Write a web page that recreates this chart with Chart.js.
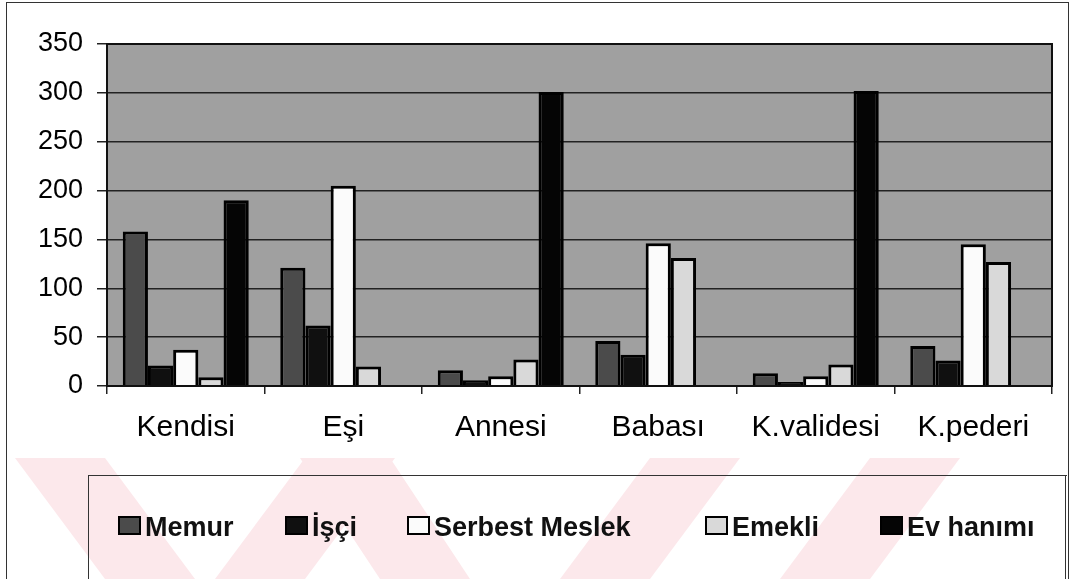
<!DOCTYPE html>
<html>
<head>
<meta charset="utf-8">
<script src="https://cdn.jsdelivr.net/npm/chart.js@4/dist/chart.umd.min.js"></script>
<style>
  body { margin: 0; background: #fff; }
  #wrap { position: relative; width: 1075px; height: 579px; overflow: hidden; font-family: Arial, "Liberation Sans", sans-serif; }
  #mark { position: absolute; left: 0; top: 0; width: 1075px; height: 579px; z-index: 0; }
  #mark div { position: absolute; left: 0; top: 0; width: 1075px; height: 579px; background: #fce8eb; }
  #chartBox { position: absolute; left: 0; top: 0; width: 1075px; height: 579px; z-index: 1; }
  #outer { position: absolute; left: 6px; top: 2px; width: 1061px; height: 640px; border: 1px solid #333; z-index: 2; }
  #legend { position: absolute; left: 88px; top: 475px; width: 976px; height: 160px; border: 1px solid #333; border-right: 4px double #333; z-index: 2; }
  .item { position: absolute; top: 512px; font-family: "Liberation Sans", Arial, sans-serif; font-weight: bold; font-size: 27px; line-height: 30px; color: #111; z-index: 3; white-space: nowrap; }
  .item i { display: inline-block; width: 19px; height: 15px; border: 2px solid #000; margin-right: 4px; vertical-align: 1px; }
</style>
</head>
<body>
<div id="wrap">
  <div id="mark">
    <div style="clip-path: polygon(15px 458px, 105px 458px, 195px 579px, 105px 579px);"></div>
    <div style="clip-path: polygon(215px 579px, 305px 579px, 395px 458px, 305px 458px);"></div>
    <div style="clip-path: polygon(300px 458px, 390px 458px, 470px 579px, 380px 579px);"></div>
    <div style="clip-path: polygon(560px 579px, 650px 579px, 740px 458px, 650px 458px);"></div>
    <div style="clip-path: polygon(780px 579px, 870px 579px, 960px 458px, 870px 458px);"></div>
  </div>
  <div id="chartBox"><canvas id="chart" width="1075" height="579"></canvas></div>
  <div id="outer"></div>
  <div id="legend"></div>
  <div id="legendItems"></div>
</div>
<script>
// kategoriler ve seriler
const categories = ['Kendisi', 'Eşi', 'Annesi', 'Babası', 'K.validesi', 'K.pederi'];
const memur = [158, 121, 16, 46, 13, 41];
const isci = [21, 62, 6, 32, 4, 26];
const serbestMeslek = [37, 205, 10, 146, 10, 145];
const emekli = [9, 20, 27, 131, 22, 127];
const evHanimi = [190, 0, 301, 0, 302, 0];

const seriesNames = ['Memur', 'İşçi', 'Serbest Meslek', 'Emekli', 'Ev hanımı'];
const seriesColors = ['#4b4b4b', '#101010', '#fbfbfb', '#d9d9d9', '#050505'];
const legendX = [118, 285, 407, 705, 880];

const yMin = 0, yMax = 350, yStep = 50;

// grafik alanı arka planı ve çerçeve
const plotBg = {
  id: 'plotBg',
  beforeDraw(chart) {
    const a = chart.chartArea, c = chart.ctx;
    c.save();
    c.fillStyle = '#a0a0a0';
    c.fillRect(a.left, a.top, a.right - a.left, a.bottom - a.top);
    c.restore();
  },
  afterDraw(chart) {
    const a = chart.chartArea, c = chart.ctx;
    c.save();
    c.strokeStyle = '#111';
    c.lineWidth = 2;
    c.strokeRect(a.left, a.top, a.right - a.left, a.bottom - a.top);
    c.restore();
  }
};

const datasetList = [memur, isci, serbestMeslek, emekli, evHanimi].map((d, i) => ({
  label: seriesNames[i],
  data: d,
  backgroundColor: seriesColors[i],
  borderColor: '#000',
  borderWidth: 3,
  categoryPercentage: 0.8,
  barPercentage: 1.0
}));

const ctx = document.getElementById('chart').getContext('2d');
new Chart(ctx, {
  type: 'bar',
  data: { labels: categories, datasets: datasetList },
  options: {
    responsive: false,
    animation: false,
    layout: { padding: { top: 44, right: 23, left: 0, bottom: 0 } },
    plugins: { legend: { display: false }, tooltip: { enabled: false } },
    scales: {
      y: {
        min: yMin,
        max: yMax,
        ticks: { stepSize: yStep, color: '#000', padding: 14, font: { family: 'Arial, "Liberation Sans"', size: 27 } },
        grid: { color: '#222', lineWidth: 1.5, tickLength: 10, tickColor: '#222' },
        border: { display: true, color: '#111', width: 2 },
        afterFit(s) { s.width = 107; }
      },
      x: {
        offset: true,
        ticks: { color: '#000', padding: 16, font: { family: 'Arial, "Liberation Sans"', size: 30 } },
        grid: { display: true, drawOnChartArea: false, offset: true, tickLength: 8, tickColor: '#222', lineWidth: 1.5 },
        border: { display: true, color: '#111', width: 2 },
        afterFit(s) { s.height = 193; }
      }
    }
  },
  plugins: [plotBg]
});

// lejant
const holder = document.getElementById('legendItems');
seriesNames.forEach((n, i) => {
  const el = document.createElement('div');
  el.className = 'item';
  el.style.left = legendX[i] + 'px';
  el.innerHTML = '<i style="background:' + seriesColors[i] + '"></i>' + n;
  holder.appendChild(el);
});
</script>
</body>
</html>
